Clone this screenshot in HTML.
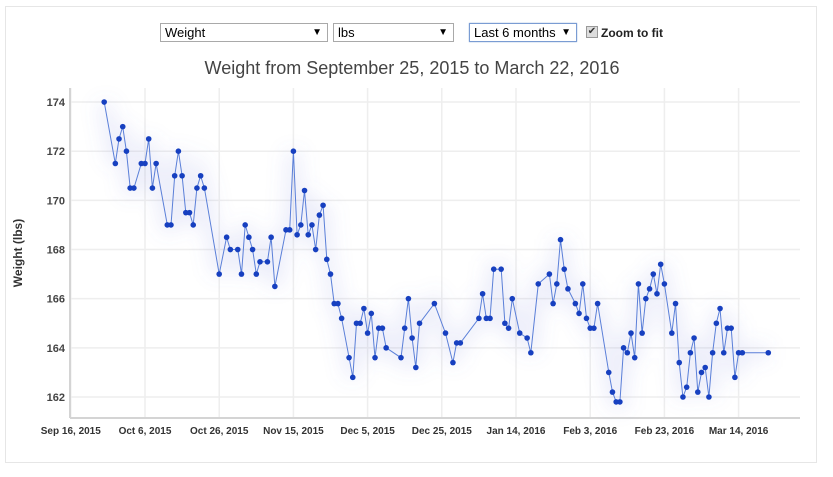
<!DOCTYPE html>
<html><head><meta charset="utf-8"><style>
body{margin:0;background:#fff;font-family:"Liberation Sans",sans-serif;}
#wrap{position:relative;width:833px;height:477px;overflow:hidden;}
#frame{position:absolute;left:5px;top:6px;width:812px;height:457px;border:1px solid #e6e6e6;box-sizing:border-box;}
.sel{position:absolute;top:23px;height:19px;border:1px solid #a9a9a9;box-sizing:border-box;font-size:13px;line-height:17px;padding-left:4px;color:#000;background:#fff;}
.sel span{position:absolute;right:5px;top:0;font-size:10px;}
</style></head><body>
<div id="wrap">
<div id="frame"></div>
<div class="sel" style="left:160px;width:168px">Weight<span>▼</span></div>
<div class="sel" style="left:333px;width:121px">lbs<span>▼</span></div>
<div class="sel" style="left:469px;width:108px;border-color:#7a9cd3;box-shadow:0 0 1px #7a9cd3">Last 6 months<span>▼</span></div>
<div style="position:absolute;left:586px;top:26px;width:10px;height:10px;border:1px solid #999;background:#ddd;font-size:10px;line-height:10px;text-align:center;color:#333">✔</div>
<div style="position:absolute;left:601px;top:26px;font-size:12px;font-weight:bold;color:#222">Zoom to fit</div>
<svg id="chart" width="833" height="477" style="position:absolute;left:0;top:0">
<defs><filter id="glow" x="-10%" y="-20%" width="120%" height="140%"><feGaussianBlur stdDeviation="9"/></filter></defs>
<text x="412" y="74" text-anchor="middle" font-size="18" fill="#444">Weight from September 25, 2015 to March 22, 2016</text>
<text transform="translate(22,253) rotate(-90)" text-anchor="middle" font-size="12" font-weight="bold" fill="#333">Weight (lbs)</text>
<g id="grid"></g><g id="axes"></g><g id="series"></g>
</svg>
</div>
<script>
const tickLabels=["Sep 16, 2015","Oct 6, 2015","Oct 26, 2015","Nov 15, 2015","Dec 5, 2015","Dec 25, 2015","Jan 14, 2016","Feb 3, 2016","Feb 23, 2016","Mar 14, 2016"];
const tickDays=[0,20,40,60,80,100,120,140,160,180];
const yTicks=[162,164,166,168,170,172,174];
const days=[9,12,13,14,15,16,17,19,20,21,22,23,26,27,28,29,30,31,32,33,34,35,36,40,42,43,45,46,47,48,49,50,51,53,54,55,58,59,60,61,62,63,64,65,66,67,68,69,70,71,72,73,75,76,77,78,79,80,81,82,83,84,85,89,90,91,92,93,94,98,101,103,104,105,110,111,112,113,114,116,117,118,119,121,123,124,126,129,130,131,132,133,134,136,137,138,139,140,141,142,145,146,147,148,149,150,151,152,153,154,155,156,157,158,159,160,162,163,164,165,166,167,168,169,170,171,172,173,174,175,176,177,178,179,180,181,188];
const weights=[174,171.5,172.5,173,172,170.5,170.5,171.5,171.5,172.5,170.5,171.5,169,169,171,172,171,169.5,169.5,169,170.5,171,170.5,167,168.5,168,168,167,169,168.5,168,167,167.5,167.5,168.5,166.5,168.8,168.8,172,168.6,169,170.4,168.6,169,168,169.4,169.8,167.6,167,165.8,165.8,165.2,163.6,162.8,165,165,165.6,164.6,165.4,163.6,164.8,164.8,164,163.6,164.8,166,164.4,163.2,165,165.8,164.6,163.4,164.2,164.2,165.2,166.2,165.2,165.2,167.2,167.2,165,164.8,166,164.6,164.4,163.8,166.6,167,165.8,166.6,168.4,167.2,166.4,165.8,165.4,166.6,165.2,164.8,164.8,165.8,163,162.2,161.8,161.8,164,163.8,164.6,163.6,166.6,164.6,166,166.4,167,166.2,167.4,166.6,164.6,165.8,163.4,162,162.4,163.8,164.4,162.2,163,163.2,162,163.8,165,165.6,163.8,164.8,164.8,162.8,163.8,163.8,163.8];
const NS="http://www.w3.org/2000/svg";
const X0=70.8,PXD=3.71,Y0=397,PXL=24.58,LEFT=70,RIGHT=800,BOTTOM=418,TOP=88;
function xs(d){return X0+d*PXD;}
function ys(v){return Y0-(v-162)*PXL;}
function mk(tag,attrs,parent){const e=document.createElementNS(NS,tag);for(const k in attrs)e.setAttribute(k,attrs[k]);parent.appendChild(e);return e;}
const grid=document.getElementById('grid'),axes=document.getElementById('axes'),series=document.getElementById('series');
yTicks.forEach(v=>{
 const l=mk('line',{x1:LEFT,x2:RIGHT,y1:ys(v),y2:ys(v),stroke:'#eeeeee','stroke-width':1.5},grid);
 
 
 const t=mk('text',{x:LEFT-5,y:ys(v)+4,'text-anchor':'end','font-size':11,'font-weight':'bold',fill:'#444'},axes);
 t.textContent=v;
 
 
});
tickDays.forEach((d,i)=>{
 const l=mk('line',{x1:xs(d),x2:xs(d),y1:TOP,y2:BOTTOM,stroke:'#eeeeee','stroke-width':1.5},grid);
 
 
 const t=mk('text',{x:xs(d),y:BOTTOM+16,'text-anchor':'middle','font-size':10,'font-weight':'bold',fill:'#333'},axes);
 t.textContent=tickLabels[i];
 
 
});
const ya=mk('line',{x1:LEFT,x2:LEFT,y1:TOP,y2:BOTTOM,stroke:'#d4d4d4','stroke-width':2},axes);


const xa=mk('line',{x1:LEFT,x2:RIGHT,y1:BOTTOM,y2:BOTTOM,stroke:'#d4d4d4','stroke-width':2},axes);


const pts=days.map((d,i)=>xs(d).toFixed(1)+','+ys(weights[i]).toFixed(1)).join(' ');
const glow=mk('polyline',{points:pts,fill:'none',stroke:'#6b7fd6','stroke-opacity':0.12,'stroke-width':16,filter:'url(#glow)'},series);


const line=mk('polyline',{points:pts,fill:'none',stroke:'#5a7fd8','stroke-width':1},series);


days.forEach((d,i)=>{
 const c=mk('circle',{cx:xs(d),cy:ys(weights[i]),r:2.8,fill:'#1740c0'},series);
 
 
});
</script>
</body></html>
